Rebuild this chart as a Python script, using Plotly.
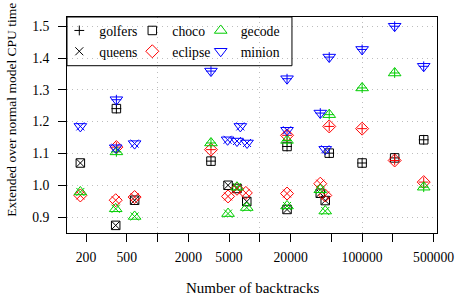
import plotly.graph_objects as go

# ---- data ----
solvers = ["choco", "eclipse", "gecode", "minion"]
problems = ["golfers", "queens"]

golfers_choco_x = [396, 3330, 18450, 47700, 100000, 208000, 400000]
golfers_choco_y = [1.241, 1.076, 1.122, 1.101, 1.070, 1.086, 1.143]
golfers_eclipse_x = [396, 3330, 18450, 47700, 100000, 208000, 400000]
golfers_eclipse_y = [1.120, 1.112, 1.157, 1.185, 1.178, 1.078, 1.010]
golfers_gecode_x = [396, 3330, 18450, 47700, 100000, 208000, 400000]
golfers_gecode_y = [1.105, 1.133, 1.141, 1.222, 1.306, 1.353, 0.994]
golfers_minion_x = [396, 3330, 18450, 39000, 47700, 100000, 208000, 400000]
golfers_minion_y = [1.269, 1.359, 1.335, 1.227, 1.403, 1.427, 1.500, 1.374]

queens_choco_x = [176, 390, 597, 4890, 5980, 7450, 18450, 39000, 43600]
queens_choco_y = [1.070, 0.874, 0.953, 1.000, 0.990, 0.949, 0.924, 0.975, 0.952]
queens_eclipse_x = [176, 390, 597, 4890, 5980, 7300, 18450, 39000, 43600]
queens_eclipse_y = [0.968, 0.953, 0.963, 0.965, 0.989, 0.976, 0.974, 1.005, 0.968]
queens_gecode_x = [176, 390, 597, 4890, 5980, 7450, 18450, 39000, 43600]
queens_gecode_y = [0.979, 0.926, 0.902, 0.911, 0.994, 0.930, 0.935, 0.986, 0.919]
queens_minion_x = [176, 390, 597, 4840, 5980, 6450, 7500, 18450, 43600]
queens_minion_y = [1.185, 1.118, 1.131, 1.143, 1.139, 1.185, 1.133, 1.173, 1.113]

x_tickvals = [200, 500, 1000, 2000, 5000, 10000, 20000, 50000, 100000, 200000, 500000]
x_ticktext = ["200", "500", "", "2000", "5000", "", "20000", "", "100000", "", "500000"]
x_gridvals = [1000, 10000, 100000]
y_tickvals = [0.9, 1.0, 1.1, 1.2, 1.3, 1.4, 1.5]
y_ticktext = ["0.9", "1.0", "1.1", "1.2", "1.3", "1.4", "1.5"]

data = {
    ("golfers", "choco"): (golfers_choco_x, golfers_choco_y),
    ("golfers", "eclipse"): (golfers_eclipse_x, golfers_eclipse_y),
    ("golfers", "gecode"): (golfers_gecode_x, golfers_gecode_y),
    ("golfers", "minion"): (golfers_minion_x, golfers_minion_y),
    ("queens", "choco"): (queens_choco_x, queens_choco_y),
    ("queens", "eclipse"): (queens_eclipse_x, queens_eclipse_y),
    ("queens", "gecode"): (queens_gecode_x, queens_gecode_y),
    ("queens", "minion"): (queens_minion_x, queens_minion_y),
}

# ---- styles ----
colors = {"choco": "#000000", "eclipse": "#FF0000", "gecode": "#00CD00", "minion": "#0000FF"}
shapes = {"choco": "square-open", "eclipse": "diamond-open",
          "gecode": "triangle-up-open", "minion": "triangle-down-open"}
shape_size = {"choco": 8.5, "eclipse": 10, "gecode": 11, "minion": 11}
glyphs = {"golfers": "cross-thin-open", "queens": "x-thin-open"}
glyph_size = {"golfers": 7, "queens": 8}

FONT = "Liberation Serif"

fig = go.Figure()

for p in problems:
    for s in solvers:
        xs, ys = data[(p, s)]
        fig.add_trace(go.Scatter(
            x=xs, y=ys, mode="markers", showlegend=False, hoverinfo="skip",
            marker=dict(symbol=shapes[s], size=shape_size[s], color=colors[s],
                        line=dict(color=colors[s], width=1))))
        fig.add_trace(go.Scatter(
            x=xs, y=ys, mode="markers", showlegend=False, hoverinfo="skip",
            marker=dict(symbol=glyphs[p], size=glyph_size[p], color=colors[s],
                        line=dict(color=colors[s], width=1))))

# legend: three columns, each its own legend box
legend_columns = [
    ("legend", [("golfers", None), ("queens", None)]),
    ("legend2", [("choco", "s"), ("eclipse", "s")]),
    ("legend3", [("gecode", "s"), ("minion", "s")]),
]
for leg, items in legend_columns:
    for name, kind in items:
        if kind is None:
            mk = dict(symbol=glyphs[name], size=glyph_size[name], color="#000000",
                      line=dict(color="#000000", width=1))
        else:
            mk = dict(symbol=shapes[name], size=shape_size[name], color=colors[name],
                      line=dict(color=colors[name], width=1))
        fig.add_trace(go.Scatter(x=[None], y=[None], mode="markers", name=name,
                                 marker=mk, legend=leg))

def legend_style(xpos):
    return dict(orientation="v", x=xpos, xanchor="left", y=1.009, yanchor="top",
                bgcolor="rgba(0,0,0,0)", borderwidth=0, traceorder="normal",
                font=dict(family=FONT, size=13.7, color="black"))

fig.update_layout(
    width=470, height=300,
    margin=dict(l=67, r=33, t=17, b=67, autoexpand=False),
    paper_bgcolor="white", plot_bgcolor="white",
    font=dict(family=FONT, size=13.7, color="black"),
    showlegend=True,
    legend=legend_style(-0.0208),
    legend2=legend_style(0.1765),
    legend3=legend_style(0.3614),
    shapes=[dict(type="rect", xref="paper", yref="paper", x0=0, x1=0.608, y0=0.7745, y1=1,
                 line=dict(color="black", width=1), fillcolor="rgba(0,0,0,0)", layer="above")],
    xaxis=dict(type="log", range=[2.115, 5.732],
               tickmode="array", tickvals=x_tickvals, ticktext=x_ticktext,
               ticks="outside", ticklen=8, tickwidth=1, tickcolor="black",
               showline=True, linecolor="black", linewidth=1, mirror=True,
               showgrid=False, zeroline=False, ticklabelstandoff=4,
               minor=dict(tickmode="array", tickvals=x_gridvals, ticklen=0,
                          showgrid=True, gridcolor="#BEBEBE", griddash="1px,4px", gridwidth=1)),
    yaxis=dict(range=[0.85, 1.529],
               tickmode="array", tickvals=y_tickvals, ticktext=y_ticktext,
               ticks="outside", ticklen=8, tickwidth=1, tickcolor="black",
               showline=True, linecolor="black", linewidth=1, mirror=True,
               showgrid=True, gridcolor="#BEBEBE", griddash="1px,4px", gridwidth=1,
               zeroline=False, ticklabelstandoff=6),
    annotations=[
        dict(text="Number of backtracks", xref="paper", yref="paper", x=0.5, y=-0.2546,
             xanchor="center", yanchor="middle", showarrow=False,
             font=dict(family=FONT, size=15, color="black")),
        dict(text="Extended over normal model CPU time", xref="paper", yref="paper",
             x=-0.152, y=0.569, xanchor="center", yanchor="middle", textangle=-90,
             showarrow=False, font=dict(family=FONT, size=13.5, color="black")),
    ],
)

fig.write_html("out.html", config={"displayModeBar": False},
               post_script="document.body.style.margin='0px';")
